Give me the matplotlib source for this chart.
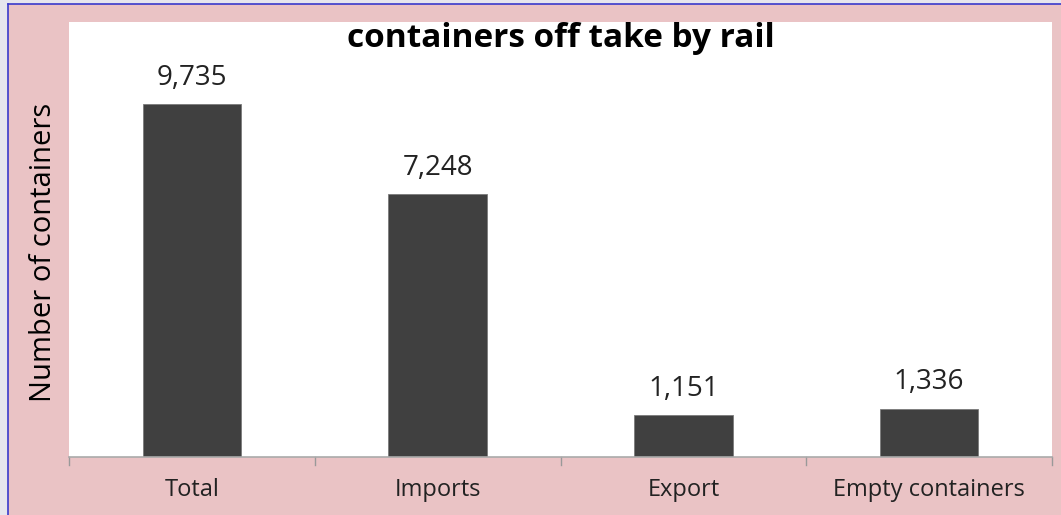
import matplotlib.pyplot as plt
from matplotlib.patches import Rectangle
from matplotlib.lines import Line2D

categories = ["Total", "Imports", "Export", "Empty containers"]
counts = [9735, 7248, 1151, 1336]

title_text = "containers off take by rail"
y_label = "Number of containers"

W, H = 1061, 515
fig = plt.figure(figsize=(W / 100, H / 100), dpi=100)
fig.patch.set_facecolor("#e6e6ee")

# pink slide background with blue frame line
fig.patches.append(Rectangle((8 / W, 0), 1, 1 - 4 / H, transform=fig.transFigure,
                             facecolor="#eac3c5", edgecolor="none", zorder=-2))
fig.add_artist(Line2D([8 / W, 8 / W], [0, 1 - 4 / H], color="#3a3acc", lw=1.2))
fig.add_artist(Line2D([8 / W, 1], [1 - 4 / H, 1 - 4 / H], color="#3a3acc", lw=1.2))

ax = fig.add_axes([69 / W, 58 / H, (1052 - 69) / W, (457 - 22) / H])
ax.set_facecolor("white")

x = range(len(categories))
ax.bar(x, counts, width=0.4, color="#404040", edgecolor="#7a7a7a", linewidth=0.6)
ax.set_xlim(-0.5, len(categories) - 0.5)
ax.set_ylim(0, 12000)

for xi, v in zip(x, counts):
    ax.annotate(f"{v:,}", (xi, v), xytext=(0, 9), textcoords="offset points",
                ha="center", va="bottom", fontsize=20, family="Open Sans", color="#222222")

ax.set_xticks(list(x))
ax.set_xticklabels(categories, fontsize=17, family="Open Sans", color="#222222")
ax.tick_params(axis="x", length=0, pad=15)
for b in [k - 0.5 for k in range(len(categories) + 1)]:
    ax.plot([b, b], [0, -0.018], transform=ax.get_xaxis_transform(), clip_on=False,
            color="#999999", lw=1)
ax.set_yticks([])
for s in ["top", "right", "left"]:
    ax.spines[s].set_visible(False)
ax.spines["bottom"].set_color("#aaaaaa")
ax.spines["bottom"].set_linewidth(1.2)

ax.text(0.5, 0.963, title_text, transform=ax.transAxes, ha="center", va="center",
        fontsize=24, fontweight="bold", family="Open Sans", color="black")
fig.text(44 / W, 1 - 252 / H, y_label, rotation=90, ha="center", va="center",
         fontsize=21, family="Open Sans", color="black")

fig.savefig("out.png", dpi=100, facecolor=fig.get_facecolor())
